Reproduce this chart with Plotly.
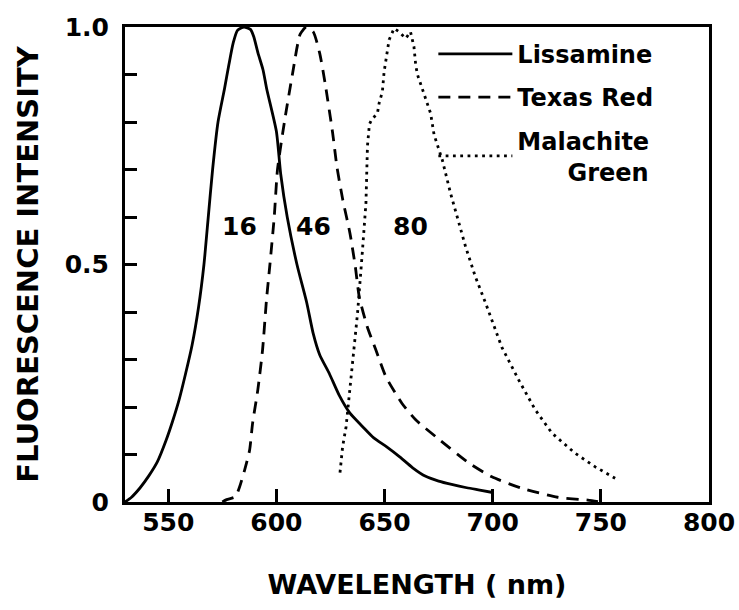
import plotly.graph_objects as go

# ---- data ----
liss_x = [530, 533, 537, 541, 545, 549, 552, 555, 558, 561, 564, 566.5, 568.5, 570.5, 573, 576, 578, 580, 582, 585,
          588, 589.5, 591.5, 593.8, 595.5, 600, 602, 605, 609.5, 614, 617, 620, 624.5, 629, 634, 640, 645, 651,
          657, 663, 669, 675, 681, 688, 694, 700]
liss_y = [0.0, 0.01, 0.03, 0.055, 0.085, 0.13, 0.17, 0.215, 0.27, 0.33, 0.41, 0.5, 0.6, 0.7, 0.8, 0.87, 0.92, 0.966,
          0.993, 1.0, 0.995, 0.98, 0.945, 0.91, 0.87, 0.78, 0.69, 0.6, 0.5, 0.42, 0.355, 0.31, 0.27, 0.225, 0.187,
          0.158, 0.135, 0.116, 0.095, 0.072, 0.054, 0.044, 0.037, 0.03, 0.025, 0.02]

texas_x = [575, 577, 581, 583, 585.3, 587.6, 589, 591.4, 593.6, 595.4, 597, 599, 600.5, 603.7, 607.4, 611, 613.8,
           617, 620, 622.5, 626, 628, 630.7, 634, 636.5, 638.3, 642, 646, 650.6, 658, 664.4, 673.8, 689, 699.6,
           713.4, 730, 744, 750]
texas_y = [0.0, 0.005, 0.011, 0.032, 0.067, 0.109, 0.166, 0.236, 0.32, 0.425, 0.5, 0.6, 0.7, 0.8, 0.9, 0.985, 1.0,
           0.99, 0.945, 0.882, 0.777, 0.705, 0.636, 0.566, 0.495, 0.432, 0.369, 0.32, 0.264, 0.208, 0.173, 0.137,
           0.082, 0.053, 0.029, 0.01, 0.004, 0.0]

mal_x = [629.4, 630.6, 632.2, 633.7, 635.2, 637.5, 639.8, 641.4, 642.1, 643, 644, 646.7, 647.5, 649, 649.8, 651.3,
         652.1, 654.4, 656.7, 659.8, 662, 663.6, 664.4, 665.2, 668.3, 671.3, 672.9, 674.4, 676.7, 680.5, 683.6,
         687.5, 692, 696.7, 704.2, 712, 719.7, 727.4, 738, 747.4, 756.6]
mal_y = [0.062, 0.116, 0.158, 0.222, 0.299, 0.397, 0.53, 0.63, 0.75, 0.795, 0.805, 0.818, 0.84, 0.864, 0.906, 0.952,
         0.973, 0.997, 0.99, 0.976, 0.99, 0.958, 0.92, 0.9, 0.86, 0.818, 0.773, 0.752, 0.72, 0.65, 0.6,
         0.537, 0.474, 0.419, 0.326, 0.257, 0.194, 0.145, 0.103, 0.074, 0.05]

series_names = ["Lissamine", "Texas Red", "Malachite<br>" + "\u00a0" * 6 + "Green"]

label_text = ["16", "46", "80"]
label_x = [583, 617, 662]
label_y = [0.58, 0.58, 0.58]

x_ticks = [550, 600, 650, 700, 750, 800]
y_ticks = [0, 0.5, 1.0]
y_ticktext = ["0", "0.5", "1.0"]

FONT = "DejaVu Sans"
LW = 2.8

fig = go.Figure()
fig.add_trace(go.Scatter(x=liss_x, y=liss_y, mode="lines", name=series_names[0], legendgroup="a",
                         line=dict(color="black", width=LW, shape="spline", smoothing=0.6)))
fig.add_trace(go.Scatter(x=texas_x, y=texas_y, mode="lines", name=series_names[1], legendgroup="b",
                         line=dict(color="black", width=LW, dash="12px,8px", shape="spline", smoothing=0.6)))
fig.add_trace(go.Scatter(x=mal_x, y=mal_y, mode="lines", name=series_names[2], legendgroup="c",
                         line=dict(color="black", width=LW, dash="2.8px,4.5px")))

for t, xx, yy in zip(label_text, label_x, label_y):
    fig.add_annotation(x=xx, y=yy, text=t, showarrow=False,
                       font=dict(family=FONT, size=25, color="black", weight="bold"))

fig.update_layout(
    width=739, height=610,
    margin=dict(l=125, r=30, t=27, b=108, autoexpand=False),
    paper_bgcolor="white", plot_bgcolor="white",
    font=dict(family=FONT, color="black"),
    legend=dict(x=0.528, y=0.99, xanchor="left", yanchor="top",
                font=dict(family=FONT, size=24, color="black", weight="bold"),
                bgcolor="rgba(0,0,0,0)", itemwidth=74, tracegroupgap=9),
    showlegend=True,
)
fig.update_xaxes(
    range=[530, 800], tickvals=x_ticks, ticks="inside", ticklen=13, tickwidth=3, tickcolor="black",
    showline=True, linewidth=3, linecolor="black", mirror=True, showgrid=False, zeroline=False,
    automargin=False, ticklabelstandoff=-4,
    tickfont=dict(family=FONT, size=25, color="black", weight="bold"),
    title=dict(text="WAVELENGTH ( nm)", font=dict(family=FONT, size=27, color="black", weight="bold"),
               standoff=40),
)
fig.update_yaxes(
    range=[0, 1.0], tickvals=y_ticks, ticktext=y_ticktext, ticks="inside", ticklen=12, tickwidth=3,
    tickcolor="black", ticklabelstandoff=8, automargin=False,
    minor=dict(dtick=0.1, ticks="inside", ticklen=12, tickwidth=3, tickcolor="black", showgrid=False),
    showline=True, linewidth=3, linecolor="black", mirror=True, showgrid=False, zeroline=False,
    tickfont=dict(family=FONT, size=25, color="black", weight="bold"),
    title=dict(text="FLUORESCENCE INTENSITY", font=dict(family=FONT, size=29, color="black", weight="bold"),
               standoff=18),
)

fig.write_html("out.html", config={"displayModeBar": False},
               post_script="document.body.style.margin='0';")
